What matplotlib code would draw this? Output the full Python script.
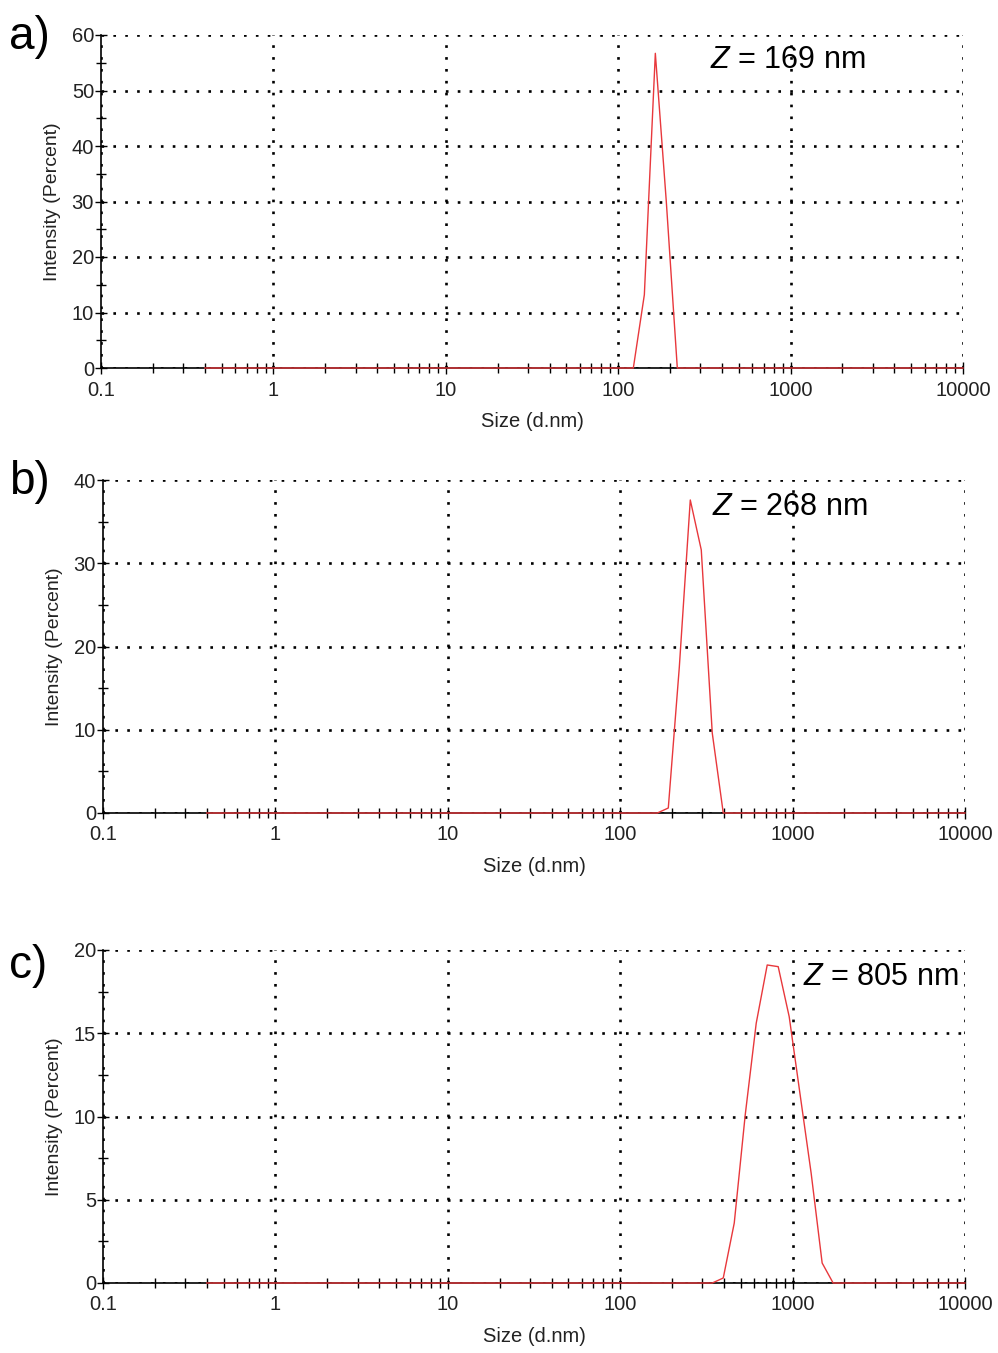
import matplotlib
matplotlib.use("Agg")
import matplotlib.pyplot as plt
from matplotlib.ticker import FixedLocator, NullFormatter, MultipleLocator, LogLocator

plt.rcParams['font.family'] = ['Liberation Sans', 'DejaVu Sans']
plt.rcParams['mathtext.fontset'] = 'custom'
plt.rcParams['mathtext.it'] = 'Liberation Sans:italic'
plt.rcParams['mathtext.rm'] = 'Liberation Sans'

# Size bins (d.nm)
sizes = [0.4, 0.4632, 0.5365, 0.6213, 0.7195, 0.8332, 0.9649, 1.117, 1.294, 1.499,
         1.736, 2.01, 2.328, 2.696, 3.122, 3.615, 4.187, 4.849, 5.615, 6.503,
         7.531, 8.721, 10.1, 11.7, 13.54, 15.69, 18.17, 21.04, 24.36, 28.21,
         32.67, 37.84, 43.82, 50.75, 58.77, 68.06, 78.82, 91.28, 105.7, 122.4,
         141.8, 164.2, 190.1, 220.2, 255.0, 295.3, 342.0, 396.1, 458.7, 531.2,
         615.1, 712.4, 825.0, 955.4, 1106, 1281, 1484, 1718, 1990, 2305,
         2669, 3091, 3580, 4145, 4801, 5560, 6439, 7456, 8635, 10000]

zeros_39 = [0.0] * 39
# intensity (%) from bin 122.4 onward
int_a = zeros_39 + [0.0, 13.2, 56.7, 30.0, 0.0] + [0.0] * 26
int_b = zeros_39 + [0.0, 0.0, 0.0, 0.6, 17.5, 37.6, 31.6, 9.6, 0.0] + [0.0] * 22
int_c = zeros_39 + [0.0, 0.0, 0.0, 0.0, 0.0, 0.0, 0.0, 0.0, 0.3, 3.6, 10.1,
                    15.6, 19.1, 19.0, 16.0, 11.3, 6.6, 1.2, 0.0] + [0.0] * 12

panels = ["a)", "b)", "c)"]
z_labels = ["$Z$ = 169 nm", "$Z$ = 268 nm", "$Z$ = 805 nm"]
ymax = [60, 40, 20]
ymajor = [10, 10, 5]
yminor = [5, 5, 2.5]
xticks = [0.1, 1, 10, 100, 1000, 10000]
xticklabels = ["0.1", "1", "10", "100", "1000", "10000"]

fig = plt.figure(figsize=(9.98, 13.53), dpi=100)
W, H = 998, 1353
boxes = [(101, 963, 35, 368), (103, 965, 480, 813), (103, 965, 950, 1283)]
zpos = [(0.7065, 0.925), (0.7065, 0.919), (0.812, 0.919)]
letter_y = [37, 482, 966]
series = [int_a, int_b, int_c]

for i in range(3):
    l, r, t, b = boxes[i]
    ax = fig.add_axes([l / W, 1 - b / H, (r - l) / W, (b - t) / H])
    ax.set_xscale('log')
    ax.set_xlim(0.1, 10000)
    ax.set_ylim(0, ymax[i])
    ax.plot(sizes, series[i], color='#e8383c', lw=1.0, zorder=5, clip_on=False)
    for s in ['top', 'right']:
        ax.spines[s].set_visible(False)
    for s in ['left', 'bottom']:
        ax.spines[s].set_linewidth(1.2)
        ax.spines[s].set_color('black')
    ax.xaxis.set_major_locator(FixedLocator(xticks))
    ax.set_xticklabels(xticklabels)
    ax.xaxis.set_minor_locator(LogLocator(base=10, subs=range(2, 10), numticks=20))
    ax.xaxis.set_minor_formatter(NullFormatter())
    ax.yaxis.set_major_locator(MultipleLocator(ymajor[i]))
    ax.yaxis.set_minor_locator(MultipleLocator(yminor[i]))
    ax.tick_params(axis='both', which='major', direction='inout', length=8, width=1,
                   labelsize=14.5, colors='black', labelcolor='#222222', pad=4)
    ax.tick_params(axis='both', which='minor', direction='inout', length=7, width=1,
                   colors='black')
    ax.tick_params(axis='x', which='major', pad=5)
    ax.tick_params(axis='y', which='major', pad=1)
    ax.grid(True, which='major', color='black', linestyle=(0, (1, 3.5)), lw=1.9)
    ax.set_axisbelow(True)
    ax.set_xlabel("Size (d.nm)", fontsize=14.5, color='#222222', labelpad=9)
    ax.set_ylabel("Intensity (Percent)", fontsize=14, color='#222222', labelpad=8)
    ax.text(zpos[i][0], zpos[i][1], z_labels[i], transform=ax.transAxes,
            fontsize=22, ha='left', va='center', color='black', zorder=6)
    fig.text(9 / W, 1 - letter_y[i] / H, panels[i], fontsize=33, ha='left',
             va='center', color='black')

fig.savefig("out.png", dpi=100)
